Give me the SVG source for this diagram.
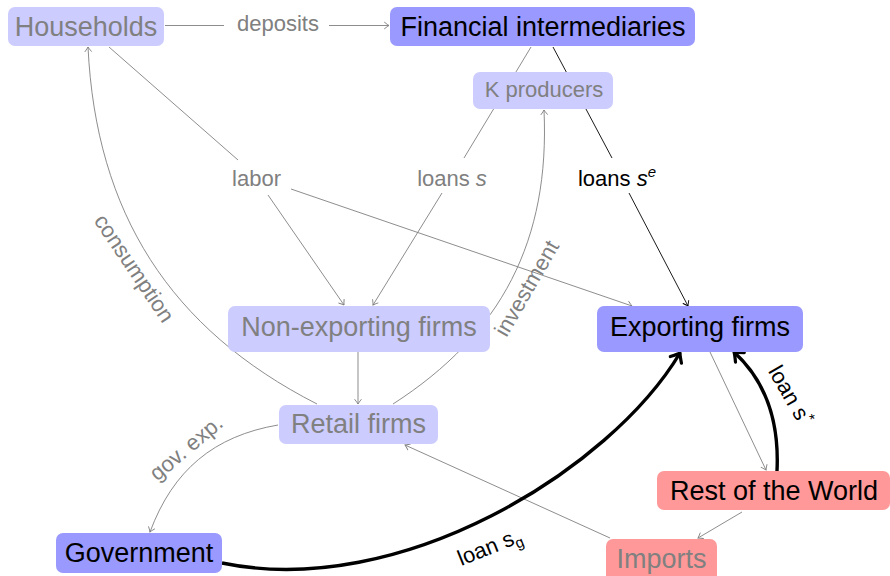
<svg xmlns="http://www.w3.org/2000/svg" width="890" height="576" viewBox="0 0 890 576">
<defs>
<style>
text{font-family:"Liberation Sans",Arial,sans-serif}
.big{font-size:27px;text-anchor:middle}
.sm{font-size:22px;text-anchor:middle}
.g{fill:#808080}
.k{fill:#000000}
.lb{fill:#ccccff}
.db{fill:#9999ff}
.rd{fill:#ff9999}
.e{fill:none;stroke:#808080;stroke-width:0.9}
.eb{fill:none;stroke:#000000;stroke-width:0.9}
.et{fill:none;stroke:#000000;stroke-width:3.4}
</style>
<marker id="ag" markerUnits="userSpaceOnUse" markerWidth="12" markerHeight="12" refX="0" refY="0" orient="auto" overflow="visible">
<path d="M-4.5,-3.2 Q-1.2,-0.6 0,0 Q-1.2,0.6 -4.5,3.2" fill="none" stroke="#808080" stroke-width="0.9" stroke-linecap="round"/>
</marker>
<marker id="ab" markerUnits="userSpaceOnUse" markerWidth="12" markerHeight="12" refX="0" refY="0" orient="auto" overflow="visible">
<path d="M-4.5,-3.2 Q-1.2,-0.6 0,0 Q-1.2,0.6 -4.5,3.2" fill="none" stroke="#000000" stroke-width="0.9" stroke-linecap="round"/>
</marker>
<marker id="at" markerUnits="userSpaceOnUse" markerWidth="20" markerHeight="20" refX="0" refY="0" orient="auto" overflow="visible">
<path d="M-8,-6.5 Q-2.5,-1.5 0,0 Q-2.5,1.5 -8,6.5" fill="none" stroke="#000000" stroke-width="3.2" stroke-linecap="round" stroke-linejoin="round"/>
</marker>
</defs>
<rect width="890" height="576" fill="#ffffff"/>
<g id="connectors">
<path class="e" d="M165,25.5 H224"/>
<path class="e" d="M329,25.5 H389" marker-end="url(#ag)"/>
<path class="e" d="M109,47 L238,160"/>
<path class="e" d="M268,195 L344,305" marker-end="url(#ag)"/>
<path class="e" d="M291,189 L632,306" marker-end="url(#ag)"/>
<path class="e" d="M531,47 L464,158"/>
<path class="e" d="M442,193 L373,305" marker-end="url(#ag)"/>
<path class="eb" d="M553,47 L612,158"/>
<path class="eb" d="M629,193 L688,306" marker-end="url(#ab)"/>
<path class="e" d="M358,352 V404" marker-end="url(#ag)"/>
<path class="e" d="M317,404 C170,329 96,213 88,47" marker-end="url(#ag)"/>
<path class="e" d="M393,404 C502,334 550,240 544,110" marker-end="url(#ag)"/>
<path class="e" d="M278,425 C214,436 173,470 150,532" marker-end="url(#ag)"/>
<path class="e" d="M710,352 L766,470" marker-end="url(#ag)"/>
<path class="e" d="M610,538 L405,445" marker-end="url(#ag)"/>
<path class="e" d="M742,512 L698,538" marker-end="url(#ag)"/>
<path class="et" d="M222,563 C400,600 610,470 680,353" marker-end="url(#at)"/>
<path class="et" d="M777,471 C779,430 770,385 734,352" marker-end="url(#at)"/>
<text class="sm g" x="278" y="31">deposits</text>
<text class="sm g" x="256.5" y="186">labor</text>
<text class="sm g" x="452" y="186">loans <tspan font-style="italic">s</tspan></text>
<text class="sm k" x="617" y="186">loans <tspan font-style="italic">s</tspan><tspan font-style="italic" font-size="15" dy="-9">e</tspan></text>
<text class="sm g" transform="translate(133,269) rotate(56)" x="0" y="6">consumption</text>
<text class="sm g" transform="translate(528,289) rotate(-60)" x="0" y="6">investment</text>
<text class="sm g" transform="translate(187,449) rotate(-40)" x="0" y="6">gov. exp.</text>
<text class="sm k" transform="translate(490,548) rotate(-22)" x="0" y="6" font-size="21">loan s<tspan font-size="15" dy="5">g</tspan></text>
<text class="sm k" transform="translate(789,396) rotate(60)" x="0" y="6" font-size="21">loan s<tspan font-size="15" dy="-8">*</tspan></text>
</g>
<g id="households"><rect class="lb" x="8" y="7" width="156" height="39" rx="7"/><text class="big g" x="86" y="36">Households</text></g>
<g id="financial-intermediaries"><rect class="db" x="390" y="7" width="305" height="39" rx="7"/><text class="big k" x="543" y="36">Financial intermediaries</text></g>
<g id="k-producers"><rect class="lb" x="473" y="72" width="140" height="37" rx="7"/><text class="sm g" x="544" y="97">K producers</text></g>
<g id="non-exporting-firms"><rect class="lb" x="228" y="306" width="262" height="46" rx="7"/><text class="big g" x="359" y="336">Non-exporting firms</text></g>
<g id="exporting-firms"><rect class="db" x="597" y="306" width="206" height="46" rx="7"/><text class="big k" x="700" y="336">Exporting firms</text></g>
<g id="retail-firms"><rect class="lb" x="279" y="405" width="159" height="39" rx="7"/><text class="big g" x="358.5" y="433">Retail firms</text></g>
<g id="government"><rect class="db" x="56" y="533" width="166" height="40" rx="7"/><text class="big k" x="139" y="562">Government</text></g>
<g id="rest-of-the-world"><rect class="rd" x="657" y="471" width="233" height="39" rx="7"/><text class="big k" x="774" y="500">Rest of the World</text></g>
<g id="imports"><rect class="rd" x="606" y="539" width="111" height="45" rx="7"/><text class="big g" x="661.5" y="568">Imports</text></g>
</svg>
